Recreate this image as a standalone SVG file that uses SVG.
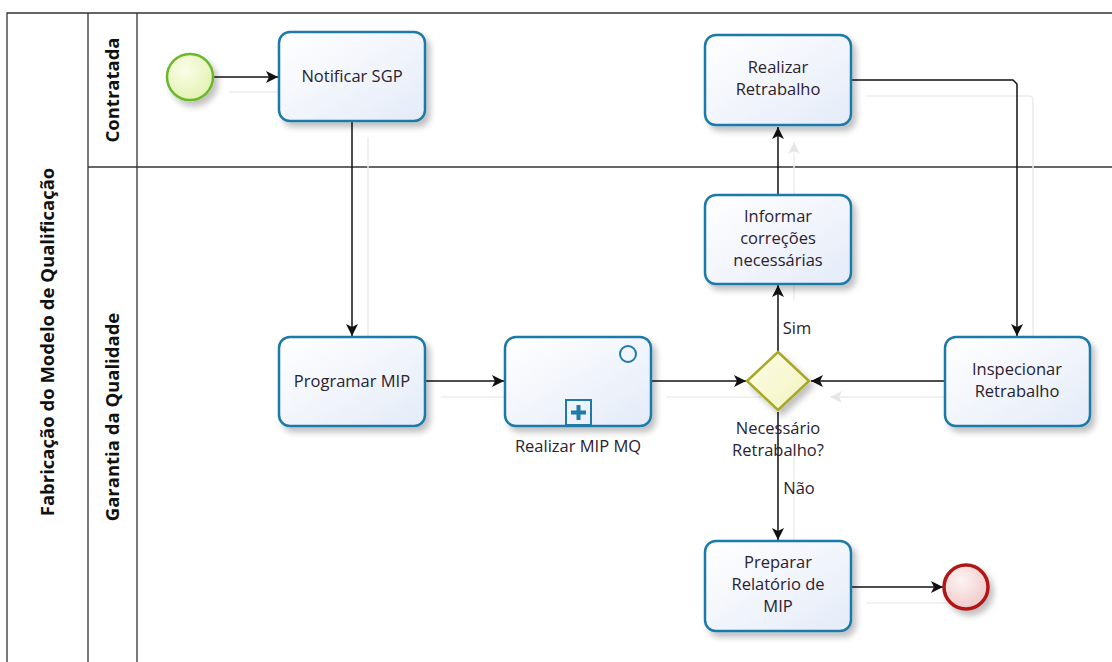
<svg xmlns="http://www.w3.org/2000/svg" width="1112" height="662" viewBox="0 0 1112 662">
<defs>
<linearGradient id="taskFill" x1="0" y1="0" x2="1" y2="1">
<stop offset="0" stop-color="#ffffff"/>
<stop offset="1" stop-color="#e4ebf8"/>
</linearGradient>
<radialGradient id="startFill" cx="0.4" cy="0.35" r="0.7">
<stop offset="0" stop-color="#fbfde8"/>
<stop offset="1" stop-color="#e2f2b0"/>
</radialGradient>
<radialGradient id="endFill" cx="0.4" cy="0.35" r="0.7">
<stop offset="0" stop-color="#fdf3f3"/>
<stop offset="1" stop-color="#efc8c8"/>
</radialGradient>
<linearGradient id="gwFill" x1="0" y1="0" x2="1" y2="1">
<stop offset="0" stop-color="#fdfde8"/>
<stop offset="1" stop-color="#f3f3c0"/>
</linearGradient>
<filter id="sh" x="-20%" y="-20%" width="150%" height="150%">
<feGaussianBlur in="SourceAlpha" stdDeviation="3"/>
<feOffset dx="4" dy="5" result="b"/>
<feComponentTransfer><feFuncA type="linear" slope="0.25"/></feComponentTransfer>
<feMerge><feMergeNode/><feMergeNode in="SourceGraphic"/></feMerge>
</filter>
<marker id="arr" markerWidth="14" markerHeight="14" refX="13" refY="7" orient="auto" markerUnits="userSpaceOnUse">
<path d="M1,1 L13,7 L1,13 L4,7 Z" fill="#111"/>
</marker>
<marker id="arrGhost" markerWidth="14" markerHeight="14" refX="13" refY="7" orient="auto" markerUnits="userSpaceOnUse">
<path d="M1,1 L13,7 L1,13 L4,7 Z" fill="#e6e6e6"/>
</marker>
</defs>
<style>
.task{fill:url(#taskFill);stroke:#1f7aa8;stroke-width:2.5;filter:url(#sh)}
.txt{font-family:"Open Sans","DejaVu Sans",sans-serif;font-size:16.5px;fill:#2a2230;text-anchor:middle}
.lane{font-family:"Open Sans","DejaVu Sans",sans-serif;font-size:18.5px;font-weight:bold;fill:#111;text-anchor:middle}
.pl{stroke:#333;stroke-width:1.3;fill:none}
.cn{stroke:#111;stroke-width:1.5;fill:none;marker-end:url(#arr)}
.gh{stroke:#ececec;stroke-width:1.5;fill:none}
</style>
<rect width="1112" height="662" fill="#ffffff"/>
<g id="pool">
<path class="pl" d="M7,662 V13 H1112"/>
<line class="pl" x1="88" y1="13" x2="88" y2="662"/>
<line class="pl" x1="137" y1="13" x2="137" y2="662"/>
<line class="pl" x1="88" y1="167" x2="1112" y2="167"/>
<text class="lane" transform="translate(54,342) rotate(-90)">Fabricação do Modelo de Qualificação</text>
<text class="lane" transform="translate(119,90) rotate(-90)">Contratada</text>
<text class="lane" transform="translate(119,417) rotate(-90)">Garantia da Qualidade</text>
</g>
<g id="connector-shadows">
<line class="gh" x1="229" y1="92" x2="295" y2="92"/>
<line class="gh" x1="368" y1="137" x2="368" y2="353"/>
<line class="gh" x1="441" y1="397" x2="521" y2="397"/>
<line class="gh" x1="667" y1="397" x2="763" y2="397"/>
<line class="gh" x1="961" y1="397" x2="830" y2="397" marker-end="url(#arrGhost)"/>
<line class="gh" x1="794" y1="300" x2="794" y2="142" marker-end="url(#arrGhost)"/>
<path class="gh" d="M867,96 H1029 Q1033,96 1033,100 V353"/>
<line class="gh" x1="794" y1="427" x2="794" y2="557"/>
<line class="gh" x1="867" y1="603" x2="960" y2="603"/>
</g>
<g id="connectors">
<line class="cn" x1="213" y1="77" x2="278" y2="77"/>
<line class="cn" x1="352" y1="122" x2="352" y2="336"/>
<line class="cn" x1="426" y1="381" x2="504" y2="381"/>
<line class="cn" x1="652" y1="381" x2="746" y2="381"/>
<line class="cn" x1="944" y1="381" x2="811" y2="381"/>
<line class="cn" x1="778" y1="351" x2="778" y2="285"/>
<line class="cn" x1="778" y1="194" x2="778" y2="127"/>
<path class="cn" d="M852,80 H1013 L1017,84 V336"/>
<line class="cn" x1="778" y1="412" x2="778" y2="540"/>
<line class="cn" x1="852" y1="587" x2="943" y2="587"/>
<text class="txt" x="797" y="334">Sim</text>
<text class="txt" x="799" y="494">Não</text>
</g>
<g id="start">
<circle cx="190" cy="77" r="23" fill="url(#startFill)" stroke="#6ab82c" stroke-width="2.5" filter="url(#sh)"/>
</g>
<g id="notificar-sgp">
<rect class="task" x="279" y="32" width="146" height="89" rx="11"/>
<text class="txt" x="352" y="82">Notificar SGP</text>
</g>
<g id="programar-mip">
<rect class="task" x="279" y="337" width="146" height="89" rx="11"/>
<text class="txt" x="352" y="387">Programar MIP</text>
</g>
<g id="realizar-mip-mq">
<rect class="task" x="505" y="337" width="146" height="89" rx="11"/>
<circle cx="628" cy="354" r="8" fill="none" stroke="#1f7aa8" stroke-width="2"/>
<rect x="566" y="400" width="25" height="25" fill="none" stroke="#1f7aa8" stroke-width="2"/>
<path d="M578.5,405 V420 M571,412.5 H586" stroke="#1f7aa8" stroke-width="4"/>
<text class="txt" x="578" y="452">Realizar MIP MQ</text>
</g>
<g id="gateway">
<path d="M778,352 L809,381 L778,410 L747,381 Z" fill="url(#gwFill)" stroke="#a8a828" stroke-width="2.5" filter="url(#sh)"/>
<text class="txt" x="778" y="434">Necessário</text>
<text class="txt" x="778" y="456">Retrabalho?</text>
</g>
<g id="informar-correcoes">
<rect class="task" x="705" y="195" width="146" height="89" rx="11"/>
<text class="txt" x="778" y="222">Informar</text>
<text class="txt" x="778" y="244">correções</text>
<text class="txt" x="778" y="266">necessárias</text>
</g>
<g id="realizar-retrabalho">
<rect class="task" x="705" y="35" width="146" height="90" rx="11"/>
<text class="txt" x="778" y="73">Realizar</text>
<text class="txt" x="778" y="95">Retrabalho</text>
</g>
<g id="inspecionar-retrabalho">
<rect class="task" x="945" y="337" width="145" height="89" rx="11"/>
<text class="txt" x="1017" y="375">Inspecionar</text>
<text class="txt" x="1017" y="397">Retrabalho</text>
</g>
<g id="preparar-relatorio">
<rect class="task" x="705" y="541" width="146" height="90" rx="11"/>
<text class="txt" x="778" y="568">Preparar</text>
<text class="txt" x="778" y="590">Relatório de</text>
<text class="txt" x="778" y="612">MIP</text>
</g>
<g id="end">
<circle cx="966" cy="587" r="22" fill="url(#endFill)" stroke="#b01818" stroke-width="3.5" filter="url(#sh)"/>
</g>
</svg>
